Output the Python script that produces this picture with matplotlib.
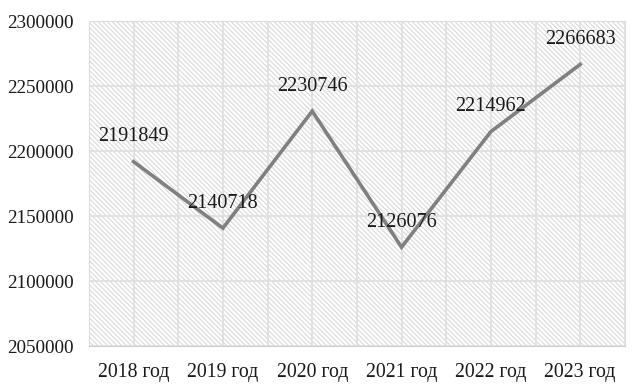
import matplotlib
matplotlib.use("Agg")
import matplotlib.pyplot as plt
from matplotlib.patches import Rectangle
from matplotlib.ticker import FixedLocator

years = ["2018 год", "2019 год", "2020 год", "2021 год", "2022 год", "2023 год"]
values = [2191849, 2140718, 2230746, 2126076, 2214962, 2266683]
yticks = [2050000, 2100000, 2150000, 2200000, 2250000, 2300000]

plt.rcParams["font.family"] = ["Liberation Serif", "DejaVu Serif"]
plt.rcParams["hatch.linewidth"] = 0.8

fig = plt.figure(figsize=(6.35, 3.91), dpi=100)
ax = fig.add_axes([0.140, 0.115, 0.844, 0.831])

x = list(range(len(years)))

# hatched background
bg = Rectangle((0, 0), 1, 1, transform=ax.transAxes, facecolor="white",
               edgecolor="#dadada", hatch="\\" * 7, lw=0, zorder=0)
ax.add_patch(bg)

ax.set_xlim(-0.5, len(years) - 0.5)
ax.set_ylim(yticks[0], yticks[-1])
ax.set_yticks(yticks)
ax.set_yticklabels([str(v) for v in yticks])
ax.set_xticks(x)
ax.set_xticklabels(years)
ax.xaxis.set_minor_locator(FixedLocator([i - 0.5 for i in range(len(years) + 1)]))

ax.grid(True, which="both", color="#e0e0e0", lw=1.3, zorder=1)
ax.set_axisbelow(True)

ax.plot(x, values, color="#808080", lw=2.6, zorder=3, solid_joinstyle="miter")

for xi, v in zip(x, values):
    ax.annotate(str(v), (xi, v), xytext=(0, 18), textcoords="offset points",
                ha="center", va="center", fontsize=14.5, color="#1a1a1a", zorder=4)

for s in ax.spines.values():
    s.set_color("#dcdcdc")
ax.spines["bottom"].set_color("#cfcfcf")
ax.tick_params(which="both", length=0, labelsize=14.2, colors="#1a1a1a")
ax.tick_params(axis="y", pad=11, labelsize=13.8)
ax.tick_params(axis="x", pad=12)

fig.savefig("out.png", dpi=100)
